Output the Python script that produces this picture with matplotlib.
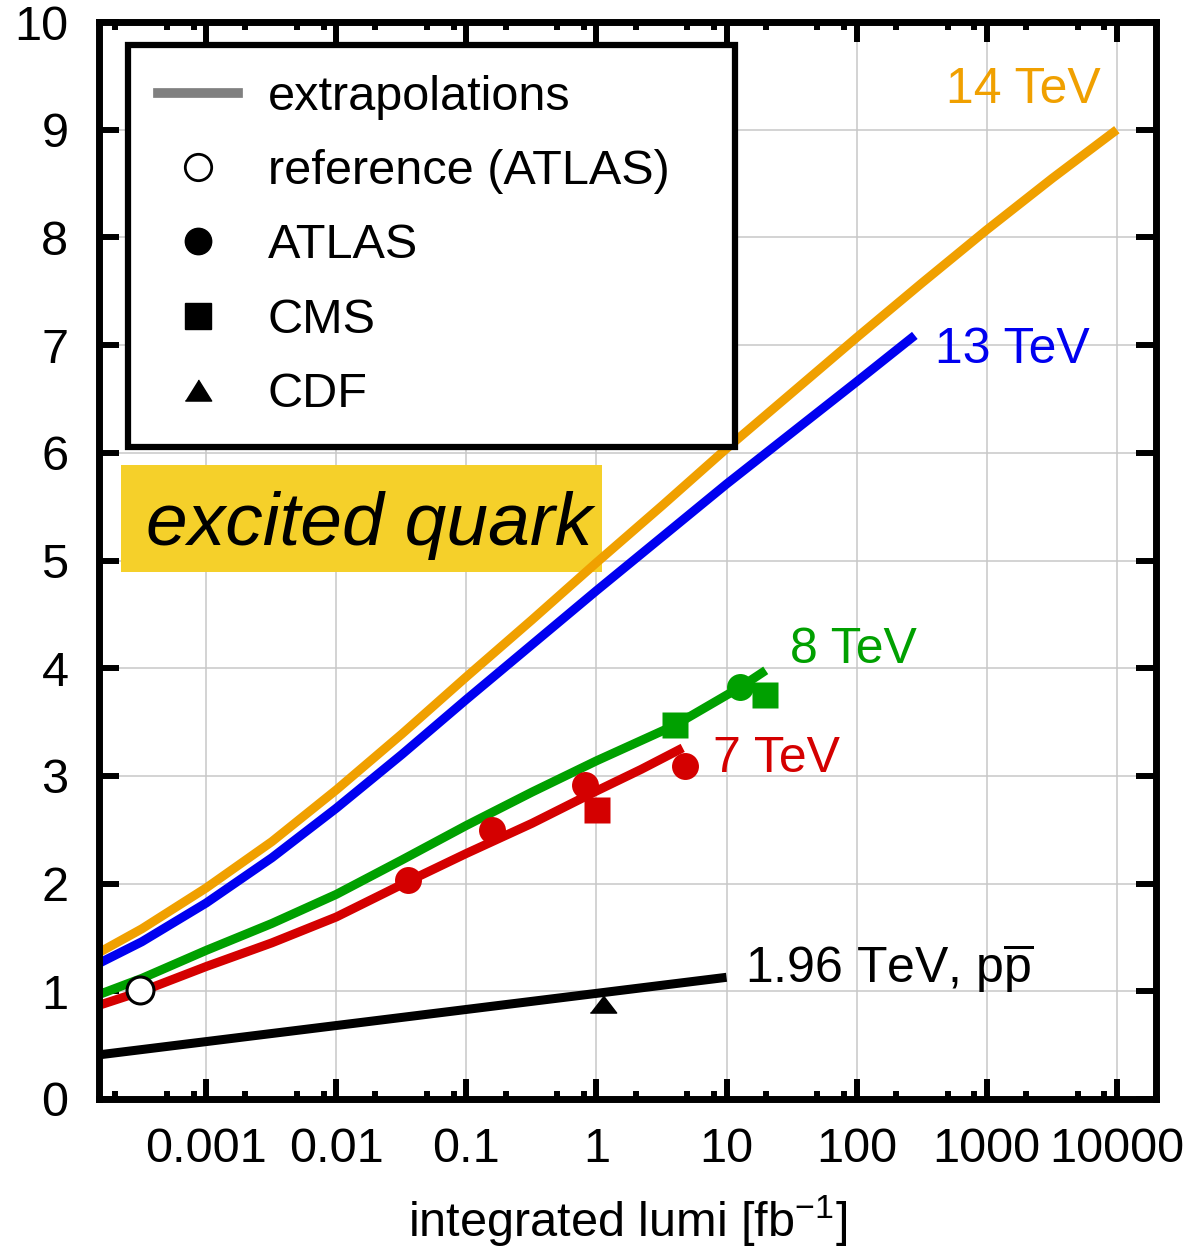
import numpy as np
import matplotlib.pyplot as plt
from matplotlib.lines import Line2D
from matplotlib.patches import Rectangle
from matplotlib.ticker import FixedLocator, FixedFormatter, NullFormatter

plt.rcParams['font.family'] = ['Liberation Sans', 'DejaVu Sans']
plt.rcParams['mathtext.fontset'] = 'custom'
plt.rcParams['mathtext.rm'] = 'Liberation Sans'
plt.rcParams['mathtext.it'] = 'Liberation Sans:italic'

# extrapolated mass reach [TeV] vs integrated lumi [fb^-1]
lumi_14 = [1.5e-4, 3.2e-4, 1e-3, 3.2e-3, 1e-2, 3.2e-2, 1e-1, 0.32, 1, 3.2, 10, 32, 100, 320, 1000, 3200, 10000]
mass_14 = [1.36, 1.58, 1.96, 2.39, 2.87, 3.39, 3.92, 4.45, 4.98, 5.51, 6.04, 6.56, 7.07, 7.58, 8.07, 8.55, 9.0]

lumi_13 = [1.5e-4, 3.2e-4, 1e-3, 3.2e-3, 1e-2, 3.2e-2, 1e-1, 0.32, 1, 3.2, 10, 32, 100, 280]
mass_13 = [1.26, 1.46, 1.82, 2.24, 2.7, 3.2, 3.71, 4.22, 4.72, 5.22, 5.71, 6.19, 6.66, 7.09]

lumi_8 = [1.5e-4, 3.2e-4, 1e-3, 3.2e-3, 1e-2, 3.2e-2, 1e-1, 0.32, 1, 4, 13, 20]
mass_8 = [0.97, 1.12, 1.38, 1.63, 1.9, 2.22, 2.54, 2.85, 3.14, 3.47, 3.83, 3.98]

lumi_7 = [1.5e-4, 3.2e-4, 1e-3, 3.2e-3, 1e-2, 0.0356, 0.1, 0.32, 1, 2.2, 4.6]
mass_7 = [0.87, 1.0, 1.23, 1.45, 1.69, 2.02, 2.28, 2.56, 2.86, 3.06, 3.26]

lumi_tev = [1.5e-4, 10]
mass_tev = [0.41, 1.13]

# measured limits
ref_lumi, ref_mass = [3.1e-4], [1.01]
atlas7_lumi, atlas7_mass = [0.0356, 0.158, 0.81, 4.8], [2.03, 2.50, 2.92, 3.09]
cms7_lumi, cms7_mass = [1.01], [2.68]
atlas8_lumi, atlas8_mass = [12.7], [3.83]
cms8_lumi, cms8_mass = [4.0, 19.6], [3.47, 3.75]
cdf_lumi, cdf_mass = [1.12], [0.88]

xticks = [1e-3, 1e-2, 1e-1, 1, 10, 100, 1000, 10000]
xticklabels = ['0.001', '0.01', '0.1', '1', '10', '100', '1000', '10000']

c14, c13, c8, c7 = '#f0a000', '#0000f0', '#00a000', '#d40000'

fig = plt.figure(figsize=(11.96, 12.52), dpi=100)
ax = fig.add_axes([99/1196, 1-1099/1252, (1156-99)/1196, (1099-22)/1252])

lw = 6.5
ax.plot(lumi_14, mass_14, color=c14, lw=lw, solid_capstyle='butt', zorder=4)
ax.plot(lumi_13, mass_13, color=c13, lw=lw, solid_capstyle='butt', zorder=4)
ax.plot(lumi_8, mass_8, color=c8, lw=lw, solid_capstyle='butt', zorder=4)
ax.plot(lumi_7, mass_7, color=c7, lw=lw, solid_capstyle='butt', zorder=4)
ax.plot(lumi_tev, mass_tev, color='black', lw=lw, solid_capstyle='butt', zorder=4)

ms = 19.4
ax.plot(atlas7_lumi, atlas7_mass, 'o', color=c7, ms=ms, mec='none', zorder=5)
ax.plot(cms7_lumi, cms7_mass, 's', color=c7, ms=ms, mec='none', zorder=5)
ax.plot(atlas8_lumi, atlas8_mass, 'o', color=c8, ms=ms, mec='none', zorder=5)
ax.plot(cms8_lumi, cms8_mass, 's', color=c8, ms=ms, mec='none', zorder=5)
ax.plot(ref_lumi, ref_mass, 'o', mfc='white', mec='black', mew=2.2, ms=ms, zorder=6)
tri = [(-1, -0.65), (1, -0.65), (0, 0.65)]
ax.plot(cdf_lumi, cdf_mass, marker=tri, ls='none', color='black', ms=19, zorder=5)

ax.set_xscale('log')
ax.set_xlim(1.5e-4, 2.0e4)
ax.set_ylim(0, 10)
ax.xaxis.set_major_locator(FixedLocator(xticks))
ax.xaxis.set_major_formatter(FixedFormatter(xticklabels))
ax.xaxis.set_minor_locator(FixedLocator([m*10.0**k for k in range(-4, 5) for m in (2, 5, 8)]))
ax.xaxis.set_minor_formatter(NullFormatter())
ax.set_yticks(range(0, 11))

ax.grid(True, which='major', color='#c8c8c8', lw=1.1, zorder=0)
ax.set_axisbelow(True)
for s in ax.spines.values():
    s.set_linewidth(5)
    s.set_zorder(10)
ax.tick_params(which='both', direction='in', top=True, right=True, width=4.3, labelsize=35)
ax.tick_params(which='major', length=14.5)
ax.tick_params(which='minor', length=5.8)
ax.tick_params(axis='x', pad=20)
ax.tick_params(axis='y', pad=22)
ax.set_xlabel(r'integrated lumi [fb$^{\mathrm{-1}}$]', fontsize=35, labelpad=16)

# curve labels
ax.text(7500, 9.25, '14 TeV', color=c14, fontsize=36, ha='right', va='baseline')
ax.text(400, 6.83, '13 TeV', color=c13, fontsize=36, ha='left', va='baseline')
ax.text(31, 4.05, '8 TeV', color=c8, fontsize=36, ha='left', va='baseline')
ax.text(7.9, 3.04, '7 TeV', color=c7, fontsize=36, ha='left', va='baseline')
ax.text(13.9, 1.08, r'1.96 TeV, p$\overline{\mathrm{p}}$', color='black', fontsize=36,
        ha='left', va='baseline')

# excited quark tag
ax.add_patch(Rectangle((0.0208, 0.4893), 0.455, 0.0994, transform=ax.transAxes,
                       fc='#f5d02a', ec='none', zorder=3))
ax.text(0.2554, 0.5144, 'excited quark', transform=ax.transAxes, fontsize=54,
        style='italic', ha='center', va='baseline', zorder=4)

handles = [
    Line2D([], [], color='#808080', lw=7),
    Line2D([], [], marker='o', ls='none', mfc='white', mec='black', mew=2, ms=19),
    Line2D([], [], marker='o', ls='none', color='black', ms=19),
    Line2D([], [], marker='s', ls='none', color='black', ms=19),
    Line2D([], [], marker=[(-1, -0.8), (1, -0.8), (0, 0.8)], ls='none', color='black', ms=19),
]
labels = ['extrapolations', 'reference (ATLAS)', 'ATLAS', 'CMS', 'CDF']
x0 = (128-99)/1057
w = (735-128)/1057
ytop = (1099-45)/1077
ybot = (1099-440)/1077
leg = ax.legend(handles, labels, loc='upper left', bbox_to_anchor=(x0, ybot, w, ytop-ybot),
                mode='expand', borderaxespad=0, fontsize=35, frameon=True, fancybox=False,
                framealpha=1, edgecolor='black', handlelength=1.65, handletextpad=0.6,
                borderpad=0.62, labelspacing=0.6)
leg.get_frame().set_linewidth(4.5)
leg.set_zorder(8)

fig.savefig('out.png', dpi=100)
